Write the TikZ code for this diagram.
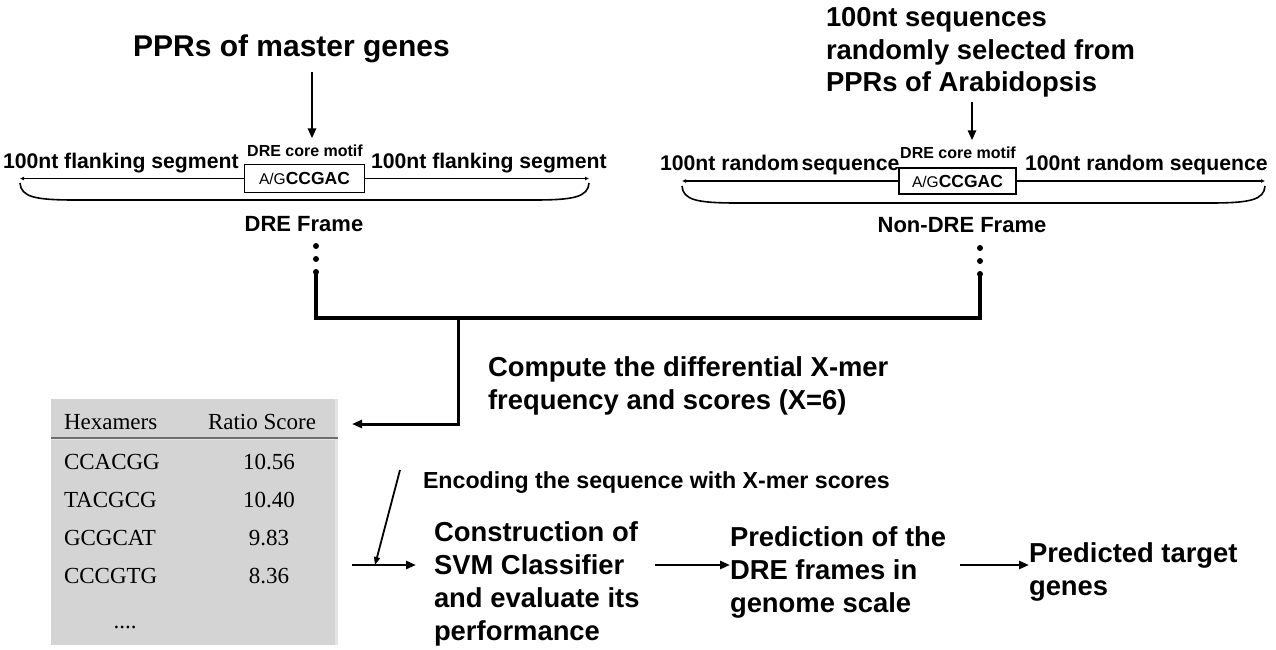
\documentclass[tikz,border=0pt]{standalone}
\usepackage{fontspec}
\setmainfont{Liberation Sans}
\newfontfamily\tabfont{Liberation Serif}
\usetikzlibrary{arrows.meta,calc}
\definecolor{tabgray}{RGB}{212,212,212}
\definecolor{tablight}{RGB}{228,228,228}
\definecolor{rulegray}{RGB}{110,110,110}
\tikzset{
  every node/.style={inner sep=0pt, outer sep=0pt, text=black},
  ttl/.style={font=\bfseries\fontsize{30}{36}\selectfont},
  ttlr/.style={font=\bfseries\fontsize{27.4}{32.5}\selectfont, align=left},
  seglab/.style={font=\bfseries\fontsize{21.2}{25}\selectfont},
  corelab/.style={font=\bfseries\fontsize{16}{19}\selectfont},
  framelab/.style={font=\bfseries\fontsize{22}{26}\selectfont},
  midtxt/.style={font=\bfseries\fontsize{27.4}{33}\selectfont, align=left},
  enctxt/.style={font=\bfseries\fontsize{23.2}{27}\selectfont},
  motifbox/.style={draw, line width=1.2pt, minimum width=120pt, minimum height=28pt},
  tabtxt/.style={font=\tabfont\fontsize{23}{27}\selectfont},
  dotnode/.style={circle, fill=black, minimum size=6pt},
  arr/.style={line width=2.6pt, -{Triangle[length=10pt,width=8pt]}},
  seqend/.style={line width=1.4pt, -{Latex[length=4pt,width=4pt]}},
  brace/.style={line width=1.6pt},
  treeline/.style={line width=4pt},
}
\begin{document}
\begin{tikzpicture}[x=1pt,y=-1pt]
\useasboundingbox (0,0) rectangle (1276,650);

% ---------- left branch ----------
\node[ttl, anchor=base] (t1) at (291.5,57) {PPRs of master genes};
\node[corelab, anchor=base] (core1) at (305,156) {DRE core motif};
\coordinate (a1s) at (312,72);
\draw[arr] (a1s) -- ($(core1.north -| a1s)+(0,-6)$);
\node[motifbox] (box1) at (304.5,178.5) {{\mdseries\fontsize{15.5}{18}\selectfont A/G}{\bfseries\fontsize{17.5}{20}\selectfont CCGAC}};
\coordinate (l1) at (20,178.5);
\coordinate (r1) at (589,178.5);
\draw[seqend] (box1.west) -- (l1);
\draw[seqend] (box1.east) -- (r1);
\node[seglab, anchor=base west] (fl1) at (3,168) {100nt flanking segment};
\node[seglab, anchor=base west] (fr1) at (371,168) {100nt flanking segment};
\draw[brace] (20,183) .. controls (21,197) and (35,200) .. (75,200) -- (534,200) .. controls (574,200) and (588,197) .. (589,183);
\node[framelab, anchor=base] (fr1lab) at (304,231) {DRE Frame};
\node[dotnode] (d1a) at (316,246) {};
\node[dotnode] (d1b) at (316,259) {};
\node[dotnode] (d1c) at (316,272) {};

% ---------- right branch ----------
\node[ttlr, anchor=base west] (t2) at (826,92) {100nt sequences\\randomly selected from\\PPRs of Arabidopsis};
\node[corelab, anchor=base] (core2) at (958,158) {DRE core motif};
\coordinate (a2s) at (972,102);
\draw[arr] (a2s) -- ($(core2.north -| a2s)+(0,-6)$);
\node[motifbox, minimum width=117pt, minimum height=26pt] (box2) at (957.5,181) {{\mdseries\fontsize{15.5}{18}\selectfont A/G}{\bfseries\fontsize{17.5}{20}\selectfont CCGAC}};
\coordinate (l2) at (682,181);
\coordinate (r2) at (1265,181);
\draw[seqend] (box2.west) -- (l2);
\draw[seqend] (box2.east) -- (r2);
\node[seglab, anchor=base west] (fl2) at (660,170) {100nt random\hspace{0.12em}sequence};
\node[seglab, anchor=base west] (fr2) at (1025,170) {100nt random sequence};
\draw[brace] (682,186) .. controls (683,200) and (697,203) .. (737,203) -- (1210,203) .. controls (1250,203) and (1264,200) .. (1265,186);
\node[framelab, anchor=base] (fr2lab) at (962,232) {Non-DRE Frame};
\node[dotnode] (d2a) at (980,248) {};
\node[dotnode] (d2b) at (980,261) {};
\node[dotnode] (d2c) at (980,274) {};

% ---------- merge ----------
\coordinate (j1) at (316,318);
\coordinate (j2) at (980,318);
\coordinate (jm) at (458,318);
\coordinate (tabin) at (352,424);
\draw[treeline] (d1c.center) -- (j1) -- (j2) -- (d2c.center);
\draw[arr, line width=3pt] (jm) |- (tabin);
\node[midtxt, anchor=base west] (comp) at (488,409) {Compute the differential X-mer\\frequency and scores (X=6)};

% ---------- table ----------
\node[fill=tabgray, minimum width=287pt, minimum height=246pt, anchor=north west] (tab) at (51,399) {};
\draw[tablight, line width=2.5pt] ($(tab.north east)+(-1.5,0)$) -- ($(tab.south east)+(-1.5,0)$);
\draw[rulegray, line width=2pt] (tab.north west |- 0,437.5) -- (tab.north east |- 0,437.5);
\draw[tablight, line width=1pt] (tab.north west |- 0,439.5) -- (tab.north east |- 0,439.5);
\node[tabtxt, anchor=base west] (h1) at (64,429) {Hexamers};
\node[tabtxt, anchor=base] (h2) at (262,429) {Ratio Score};
\node[tabtxt, anchor=base west] (c1) at (64,469) {CCACGG};
\node[tabtxt, anchor=base] (s1) at (269,469) {10.56};
\node[tabtxt, anchor=base west] (c2) at (64,507) {TACGCG};
\node[tabtxt, anchor=base] (s2) at (269,507) {10.40};
\node[tabtxt, anchor=base west] (c3) at (64,545) {GCGCAT};
\node[tabtxt, anchor=base] (s3) at (269,545) {9.83};
\node[tabtxt, anchor=base west] (c4) at (64,583) {CCCGTG};
\node[tabtxt, anchor=base] (s4) at (269,583) {8.36};
\node[tabtxt, anchor=base] (c5) at (125,628) {....};

% ---------- bottom pipeline ----------
\node[enctxt, anchor=base west] (enc) at (423,488) {Encoding the sequence with X-mer scores};
\coordinate (encA) at (400,470);
\coordinate (h0) at (352,565);
\coordinate (hm) at (375,565);
\coordinate (h1) at (416,565);
\draw[arr] (h0) -- (h1);
\draw[arr, line width=1.8pt, -{Triangle[length=8pt,width=6pt]}] (encA) -- (hm);
\node[midtxt, anchor=base west] (cons) at (434,640) {Construction of\\SVM Classifier\\and evaluate its\\performance};
\node[midtxt, anchor=base west] (pred) at (730,612) {Prediction of the\\DRE frames in\\genome scale};
\node[midtxt, anchor=base west] (targ) at (1029,595) {Predicted target\\genes};
\draw[arr] (655,565) -- (pred.west |- 0,565);
\draw[arr] (960,565) -- (targ.west |- 0,565);
\end{tikzpicture}
\end{document}
